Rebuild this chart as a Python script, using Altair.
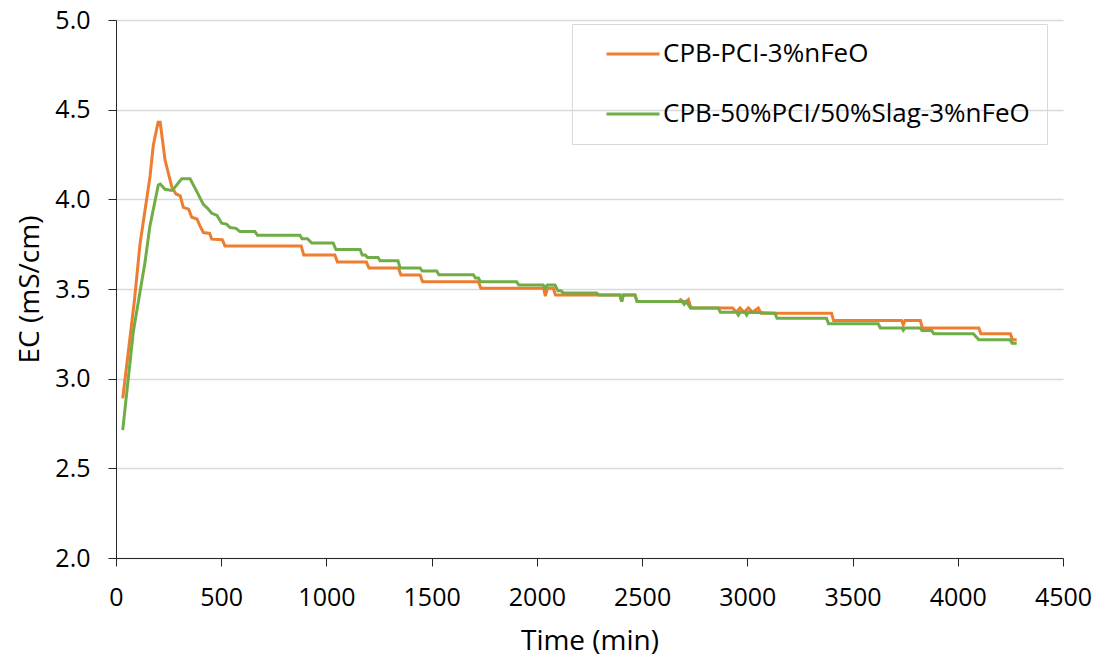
import altair as alt
import pandas as pd

S1 = "CPB-PCI-3%nFeO"
S2 = "CPB-50%PCI/50%Slag-3%nFeO"

orange_t = [32, 88, 114, 162, 177, 200, 210, 233, 265, 285, 305, 320, 345, 360, 385,
            399, 415, 445, 455, 505, 518, 880, 892, 1040, 1052, 1190, 1202, 1342, 1354, 1445,
            1457, 1722, 1734, 2032, 2040, 2050, 2078, 2088, 2395, 2403, 2411, 2466, 2476, 2675, 2683,
            2695, 2712, 2720, 2732, 2930, 2948, 2965, 2985, 3005, 3025, 3052, 3065, 3400, 3410, 3733,
            3741, 3749, 3822, 3832, 4100, 4110, 4250, 4260, 4280]
orange_ec = [2.89, 3.44, 3.75, 4.13, 4.30, 4.43, 4.43, 4.22, 4.07, 4.03, 4.02, 3.955, 3.945, 3.90, 3.89,
             3.852, 3.815, 3.81, 3.778, 3.775, 3.74, 3.74, 3.69, 3.69, 3.65, 3.65, 3.617, 3.617, 3.578, 3.578,
             3.54, 3.54, 3.504, 3.504, 3.46, 3.504, 3.504, 3.467, 3.467, 3.43, 3.467, 3.467, 3.43, 3.43, 3.44,
             3.43, 3.43, 3.44, 3.394, 3.394, 3.37, 3.394, 3.37, 3.394, 3.37, 3.394, 3.365, 3.365, 3.324, 3.324,
             3.30, 3.324, 3.324, 3.283, 3.283, 3.25, 3.25, 3.217, 3.217]

green_t = [32, 82, 138, 161, 201, 210, 233, 265, 275, 312, 352, 383, 415, 435, 455,
           480, 502, 525, 542, 570, 589, 660, 672, 874, 884, 910, 930, 1032, 1045, 1160,
           1170, 1185, 1195, 1245, 1255, 1340, 1350, 1445, 1455, 1524, 1534, 1698, 1708, 1722, 1732,
           1904, 1914, 2030, 2040, 2050, 2086, 2100, 2115, 2126, 2284, 2294, 2395, 2403, 2411, 2466,
           2476, 2690, 2700, 2710, 2730, 2862, 2872, 2950, 2957, 2965, 2990, 2997, 3005, 3131, 3141,
           3376, 3386, 3622, 3632, 3735, 3741, 3749, 3820, 3830, 3876, 3886, 4074, 4082, 4100, 4248,
           4258, 4280]
green_ec = [2.713, 3.26, 3.65, 3.85, 4.08, 4.085, 4.056, 4.05, 4.06, 4.115, 4.115, 4.046, 3.972, 3.95, 3.922,
            3.91, 3.867, 3.862, 3.843, 3.838, 3.82, 3.82, 3.80, 3.80, 3.78, 3.78, 3.756, 3.756, 3.72, 3.72,
            3.69, 3.69, 3.676, 3.676, 3.657, 3.657, 3.617, 3.617, 3.60, 3.60, 3.58, 3.58, 3.561, 3.561, 3.54,
            3.54, 3.522, 3.522, 3.505, 3.522, 3.522, 3.49, 3.49, 3.478, 3.478, 3.467, 3.467, 3.43, 3.467, 3.467,
            3.43, 3.43, 3.415, 3.43, 3.394, 3.394, 3.37, 3.37, 3.355, 3.37, 3.37, 3.355, 3.37, 3.365, 3.337,
            3.337, 3.306, 3.306, 3.283, 3.283, 3.27, 3.283, 3.283, 3.268, 3.268, 3.25, 3.25, 3.24, 3.217, 3.217,
            3.198, 3.198]

x_ticks = [0, 500, 1000, 1500, 2000, 2500, 3000, 3500, 4000, 4500]
y_ticks = [2.0, 2.5, 3.0, 3.5, 4.0, 4.5, 5.0]

df1 = pd.DataFrame({"t": orange_t, "ec": orange_ec, "series": S1, "i": range(len(orange_t))})
df2 = pd.DataFrame({"t": green_t, "ec": green_ec, "series": S2, "i": range(len(green_t))})

FONT = "Open Sans"

x = alt.X("t:Q", title="Time (min)",
          scale=alt.Scale(domain=[0, 4500], nice=False),
          axis=alt.Axis(values=x_ticks, format="d", grid=False, tickSize=8,
                        labelPadding=19, titlePadding=17, domainColor="#262626",
                        tickColor="#262626", labelFontSize=25, titleFontSize=28,
                        labelColor="#000000", titleColor="#000000", labelFont=FONT,
                        titleFont=FONT, titleFontWeight="normal", labelFlush=False))
y = alt.Y("ec:Q", title="EC (mS/cm)",
          scale=alt.Scale(domain=[2, 5], nice=False, zero=False),
          axis=alt.Axis(values=y_ticks, format=".1f", grid=True, gridColor="#D9D9D9",
                        gridWidth=1.3, tickSize=8, labelPadding=18, titlePadding=10,
                        domainColor="#262626", tickColor="#262626", labelFontSize=25,
                        titleFontSize=28, labelColor="#000000", titleColor="#000000",
                        labelFont=FONT, titleFont=FONT, titleFontWeight="normal"))
color = alt.Color("series:N",
                  scale=alt.Scale(domain=[S1, S2], range=["#ED7D31", "#70AD47"]),
                  legend=alt.Legend(title=None, orient="none", legendX=456, legendY=4,
                                    strokeColor="#D9D9D9", padding=17, symbolType="stroke",
                                    symbolSize=2809, symbolStrokeWidth=3, symbolOffset=16,
                                    labelOffset=2, rowPadding=34, clipHeight=26,
                                    labelFontSize=26, labelFont=FONT, labelColor="#000000",
                                    labelLimit=600))

l1 = alt.Chart(df1).mark_line(strokeWidth=3).encode(x=x, y=y, color=color, order="i:Q")
l2 = alt.Chart(df2).mark_line(strokeWidth=3).encode(x=x, y=y, color=color, order="i:Q")

chart = alt.layer(l1, l2).properties(
    width=947, height=538,
    padding={"left": 116, "top": 20, "right": 36, "bottom": 106},
    autosize=alt.AutoSizeParams(type="none"),
).configure_view(stroke=None)

chart.save("out.html", embed_options={"renderer": "svg", "actions": False})
